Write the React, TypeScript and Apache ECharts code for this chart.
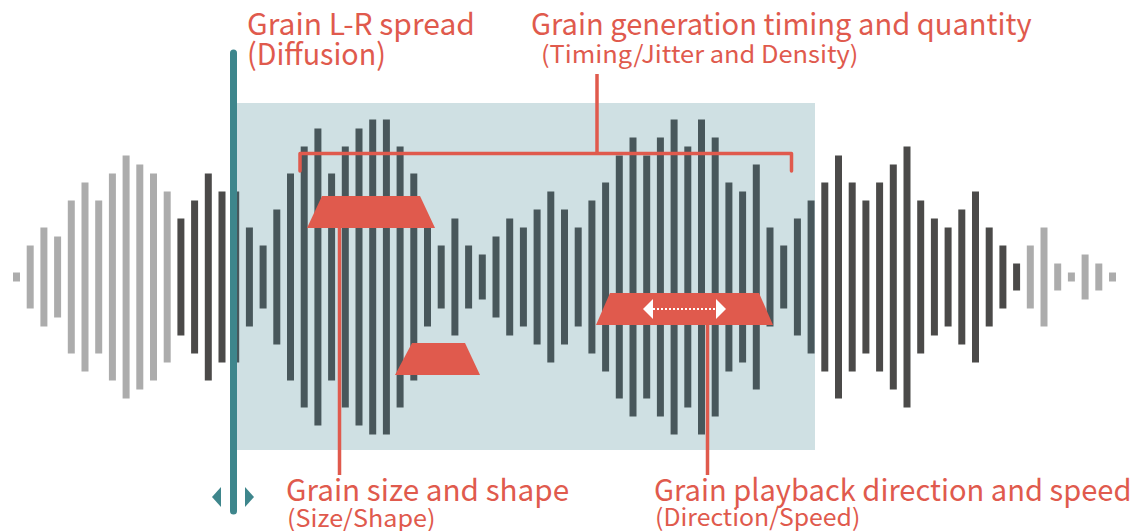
import React, { useEffect, useRef } from "react";
import * as echarts from "echarts";

// Half-height (amplitude) of every grain bar in the waveform, left to right
const amplitudes: number[] = [
  0.5, 3.5, 5.5, 4.5, 8.5, 10.5, 8.5, 11.5, 13.5, 12.5, 11.5, 9.5, 6.5, 8.5, 11.5, 9.5,
  9.5, 5.5, 3.5, 7.5, 11.5, 14.5, 16.5, 11.5, 14.5, 16.5, 17.5, 17.5, 14.5, 11.5, 5.5, 3.5,
  6.5, 3.5, 2.5, 4.5, 6.5, 5.5, 7.5, 9.5, 7.5, 5.5, 8.5, 10.5, 13.5, 15.5, 13.5, 15.5,
  17.5, 14.5, 17.5, 15.5, 10.5, 9.5, 12.5, 5.5, 3.5, 6.5, 8.5, 10.5, 13.5, 10.5, 8.5, 10.5,
  12.5, 14.5, 8.5, 6.5, 5.5, 7.5, 9.5, 5.5, 3.5, 1.5, 3.5, 5.5, 1.5, 0.5, 2.5, 1.5, 0.5,
];

// Bar index ranges (0-based, exclusive ends) for each tone
const fadeInEnd = 12; // light grey bars before this index
const darkInEnd = 16; // dark bars before the selected window
const windowEnd = 59; // slate bars inside the selected window
const darkOutEnd = 74; // dark bars after the window, then light grey

const labelsTop = {
  spread: "Grain L-R spread",
  spreadSub: "(Diffusion)",
  timing: "Grain generation timing and quantity",
  timingSub: "(Timing/Jitter and Density)",
};
const labelsBottom = {
  size: "Grain size and shape",
  sizeSub: "(Size/Shape)",
  dir: "Grain playback direction and speed",
  dirSub: "(Direction/Speed)",
};

const LIGHT = "#acacac";
const DARK = "#4b4a49";
const SLATE = "#48575b";
const BOX = "#cfe0e3";
const TEAL = "#3e868c";
const RED = "#e05a4d";
const FONT = "'Noto Sans CJK JP', 'Noto Sans', sans-serif";

function toneFor(i: number): string {
  if (i < fadeInEnd) return LIGHT;
  if (i < darkInEnd) return DARK;
  if (i < windowEnd) return SLATE;
  if (i < darkOutEnd) return DARK;
  return LIGHT;
}

function label(text: string, x: number, y: number, size: number, scaleX = 1) {
  return {
    type: "text",
    x,
    y,
    scaleX,
    z: 120,
    style: {
      text,
      fill: RED,
      font: `${size}px ${FONT}`,
      align: "left",
      verticalAlign: "middle",
    },
  };
}

export default function App() {
  const ref = useRef<HTMLDivElement>(null);

  useEffect(() => {
    if (!ref.current) return;
    const chart = echarts.init(ref.current, undefined, { renderer: "svg" });

    const data = amplitudes.map((a, i) => ({
      value: [i, a],
      itemStyle: { color: toneFor(i) },
    }));

    const graphics: any[] = [
      // selected window box
      {
        type: "rect",
        z: 0,
        shape: { x: 237, y: 103, width: 578, height: 347 },
        style: { fill: BOX },
      },
      // teal L-R spread bar
      {
        type: "line",
        z: 110,
        shape: { x1: 233.5, y1: 53, x2: 233.5, y2: 511 },
        style: { stroke: TEAL, lineWidth: 7, lineCap: "round" },
      },
      {
        type: "polygon",
        z: 110,
        shape: { points: [[212, 497], [221, 487], [221, 507]] },
        style: { fill: TEAL },
      },
      {
        type: "polygon",
        z: 110,
        shape: { points: [[254, 497], [245, 487], [245, 507]] },
        style: { fill: TEAL },
      },
      // timing bracket
      {
        type: "polyline",
        z: 110,
        shape: { points: [[300, 171], [300, 153.5], [791.5, 153.5], [791.5, 171]] },
        style: { stroke: RED, lineWidth: 3.5, fill: "none", lineJoin: "round", lineCap: "round" },
      },
      {
        type: "line",
        z: 110,
        shape: { x1: 597, y1: 74, x2: 597, y2: 153.5 },
        style: { stroke: RED, lineWidth: 3.5 },
      },
      // size/shape trapezoids
      {
        type: "polygon",
        z: 110,
        shape: { points: [[322, 196], [420, 196], [435, 228], [307, 228]] },
        style: { fill: RED },
      },
      {
        type: "line",
        z: 110,
        shape: { x1: 339.5, y1: 228, x2: 339.5, y2: 475 },
        style: { stroke: RED, lineWidth: 3.5 },
      },
      {
        type: "polygon",
        z: 110,
        shape: { points: [[412, 343], [465, 343], [480, 375], [395, 375]] },
        style: { fill: RED },
      },
      // direction trapezoid
      {
        type: "polygon",
        z: 110,
        shape: { points: [[610, 293], [759, 293], [773, 325], [596, 325]] },
        style: { fill: RED },
      },
      {
        type: "line",
        z: 110,
        shape: { x1: 707.5, y1: 325, x2: 707.5, y2: 475 },
        style: { stroke: RED, lineWidth: 3.5 },
      },
      {
        type: "line",
        z: 115,
        shape: { x1: 653, y1: 309, x2: 716, y2: 309 },
        style: { stroke: "#ffffff", lineWidth: 2, lineDash: [2, 2] },
      },
      {
        type: "polygon",
        z: 115,
        shape: { points: [[643, 309], [653, 299], [653, 319]] },
        style: { fill: "#ffffff" },
      },
      {
        type: "polygon",
        z: 115,
        shape: { points: [[726, 309], [716, 299], [716, 319]] },
        style: { fill: "#ffffff" },
      },
      // labels
      label(labelsTop.spread, 247, 22, 30, 1.0),
      label(labelsTop.spreadSub, 247, 52, 30, 0.955),
      label(labelsTop.timing, 531, 22, 30, 0.97),
      label(labelsTop.timingSub, 541, 52, 24, 1.06),
      label(labelsBottom.size, 286, 488, 30, 0.99),
      label(labelsBottom.sizeSub, 287, 516, 24, 1.05),
      label(labelsBottom.dir, 654, 488, 30, 0.97),
      label(labelsBottom.dirSub, 655, 516, 24, 1.035),
    ];

    chart.setOption({
      animation: false,
      backgroundColor: "#ffffff",
      grid: { left: 9.65, right: 19.65, top: 97, bottom: 74 },
      xAxis: { type: "value", min: -0.5, max: 80.5, show: false },
      yAxis: { type: "value", min: -20, max: 20, show: false },
      graphic: graphics,
      series: [
        {
          type: "custom",
          z: 5,
          data,
          renderItem: (params: any, api: any) => {
            const x = api.value(0);
            const a = api.value(1);
            const top = api.coord([x, a]);
            const bot = api.coord([x, -a]);
            const w = 7;
            return {
              type: "rect",
              shape: { x: top[0] - w / 2, y: top[1], width: w, height: bot[1] - top[1] },
              style: { fill: api.visual("color") },
            };
          },
        },
      ],
    });

    return () => chart.dispose();
  }, []);

  return (
    <div
      ref={ref}
      style={{ position: "fixed", left: 0, top: 0, width: 1139, height: 531 }}
    />
  );
}
